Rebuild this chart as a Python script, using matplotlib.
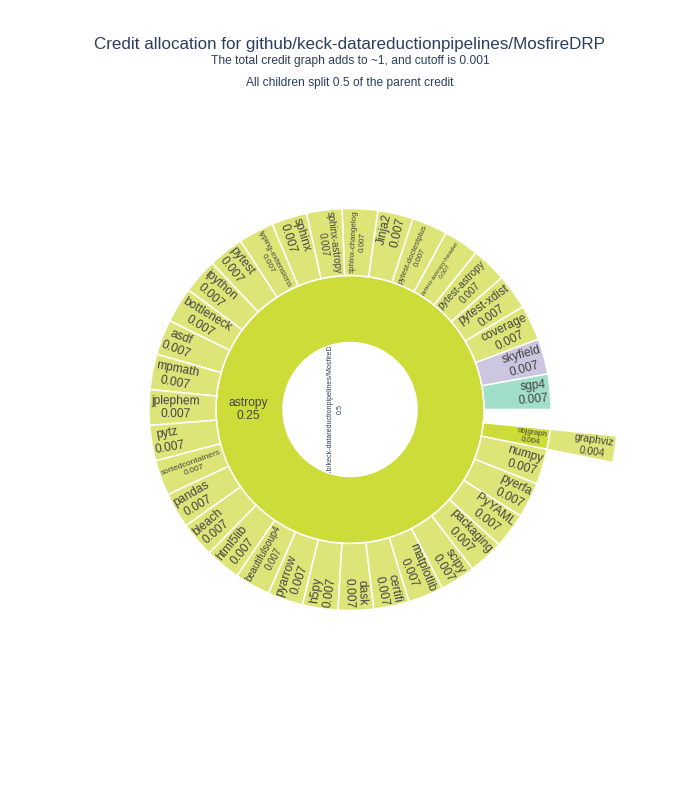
import matplotlib
matplotlib.use("Agg")
import matplotlib.pyplot as plt
from matplotlib.patches import Wedge, Circle
import numpy as np

# ---------------- data ----------------
title = "Credit allocation for github/keck-datareductionpipelines/MosfireDRP"
subtitle1 = "The total credit graph adds to ~1, and cutoff is 0.001"
subtitle2 = "All children split 0.5 of the parent credit"

root_label = "github/keck-datareductionpipelines/MosfireDRP"
root_value = 0.5

level1_labels = ["astropy"]
level1_values = [0.25]

# children of astropy, counterclockwise from 3 o'clock
astropy_children = [
    "sgp4", "skyfield", "coverage", "pytest-xdist", "pytest-astropy",
    "pytest-astropy-header", "pytest-doctestplus", "Jinja2", "sphinx-changelog",
    "sphinx-astropy", "sphinx", "typing-extensions", "pytest", "ipython",
    "bottleneck", "asdf", "mpmath", "jplephem", "pytz", "sortedcontainers",
    "pandas", "bleach", "html5lib", "beautifulsoup4", "pyarrow", "h5py", "dask",
    "certifi", "matplotlib", "scipy", "packaging", "PyYAML", "pyerfa", "numpy",
    "objgraph",
]
astropy_child_values = [
    0.00712, 0.00712, 0.00712, 0.00712, 0.00712,
    0.00712, 0.00712, 0.00712, 0.00712,
    0.00712, 0.00712, 0.00712, 0.00712, 0.00712,
    0.00712, 0.00712, 0.00712, 0.00712, 0.00712, 0.00712,
    0.00712, 0.00712, 0.00712, 0.00712, 0.00712, 0.00712, 0.00712,
    0.00712, 0.00712, 0.00712, 0.00712, 0.00712, 0.00712, 0.00712,
    0.004,
]
objgraph_children = ["graphviz"]
objgraph_child_values = [0.004]

# ---------------- style ----------------
L1_COLOR = "#cddc39"
L2_COLOR = "#dde579"
SPECIAL_COLORS = {"skyfield": "#ccc6e0", "sgp4": "#a2dfcb", "objgraph": "#cddc39"}
TEXT_COLOR = "#444444"
TITLE_COLOR = "#2a3f5f"
FONT = ["Liberation Sans", "DejaVu Sans"]
PX = 0.72  # points per pixel at dpi 100

W, H = 700, 800
CX, CY = 350, 800 - 409.5
RING = 67.0
START = 0.0  # degrees, slices run counterclockwise from 3 o'clock

fig = plt.figure(figsize=(7, 8), dpi=100)
ax = fig.add_axes([0, 0, 1, 1])
ax.set_xlim(0, W)
ax.set_ylim(0, H)
ax.axis("off")
renderer = fig.canvas.get_renderer()

total = sum(level1_values)


def deg(v):
    return v / total * 360.0


def wedge(a_start, span, r_in, r_out, color):
    ax.add_patch(Wedge((CX, CY), r_out, a_start, a_start + span, width=r_out - r_in,
                       facecolor=color, edgecolor="white", linewidth=1.1, zorder=2))


def radial_text(label, value, a_start, span, r_in, r_out, base_px=12.0, pad=2.0):
    s_txt = f"{label}\n{value:.3f}"
    t = ax.text(0, 0, s_txt, fontsize=base_px * PX, family=FONT, ha="center",
                va="center", multialignment="center", color=TEXT_COLOR, zorder=3)
    bb = t.get_window_extent(renderer)
    w, h = bb.width, bb.height
    c = 2 * np.sin(np.radians(span) / 2)
    T = r_out - r_in
    s = min(1.0, (T - 2 * pad) / w, (r_out - pad) * c / (h + w * c))
    mid = a_start + span / 2
    rc = r_out - pad - s * w / 2
    x = CX + rc * np.cos(np.radians(mid))
    y = CY + rc * np.sin(np.radians(mid))
    m = ((mid + 180) % 360) - 180
    rot = m
    if m > 90:
        rot = m - 180
    elif m < -90:
        rot = m + 180
    t.set_position((x, y))
    t.set_fontsize(base_px * s * PX)
    t.set_rotation(rot)
    t.set_rotation_mode("anchor")


# root: white disc, label drawn beneath the first ring so its overflow is hidden
ax.add_patch(Circle((CX, CY), RING, facecolor="white", edgecolor="white",
                    linewidth=1, zorder=0.5))
ax.text(CX - 15, CY, f"{root_label}\n{root_value}", fontsize=7.2 * PX, family=FONT,
        rotation=90, ha="center", va="center", multialignment="center",
        color=TITLE_COLOR, rotation_mode="anchor", linespacing=1.5, zorder=1)

# level 1 (astropy), level 2 (its children), level 3 (graphviz)
a = START
for lab, val in zip(level1_labels, level1_values):
    span = deg(val)
    wedge(a, span, RING, 2 * RING, L1_COLOR)
    ax.text(CX - 101.5, CY, f"{lab}\n{val}", fontsize=12 * PX, family=FONT,
            ha="center", va="center", multialignment="center", color=TEXT_COLOR,
            zorder=3)
    b = a
    for k, kv in zip(astropy_children, astropy_child_values):
        ks = deg(kv)
        wedge(b, ks, 2 * RING, 3 * RING, SPECIAL_COLORS.get(k, L2_COLOR))
        radial_text(k, kv, b, ks, 2 * RING, 3 * RING)
        if k == "objgraph":
            c0 = b
            for g, gv in zip(objgraph_children, objgraph_child_values):
                gs = deg(gv)
                wedge(c0, gs, 3 * RING, 4 * RING, L2_COLOR)
                radial_text(g, gv, c0, gs, 3 * RING, 4 * RING)
                c0 += gs
        b += ks
    a += span

fig.text(0.5, 1 - 44 / H, title, ha="center", va="center", fontsize=17 * PX,
         family=FONT, color=TITLE_COLOR)
fig.text(0.5, 1 - 61 / H, subtitle1, ha="center", va="center", fontsize=12 * PX,
         family=FONT, color=TITLE_COLOR)
fig.text(0.5, 1 - 83 / H, subtitle2, ha="center", va="center", fontsize=12 * PX,
         family=FONT, color=TITLE_COLOR)

fig.savefig("out.png", dpi=100, facecolor="white")
